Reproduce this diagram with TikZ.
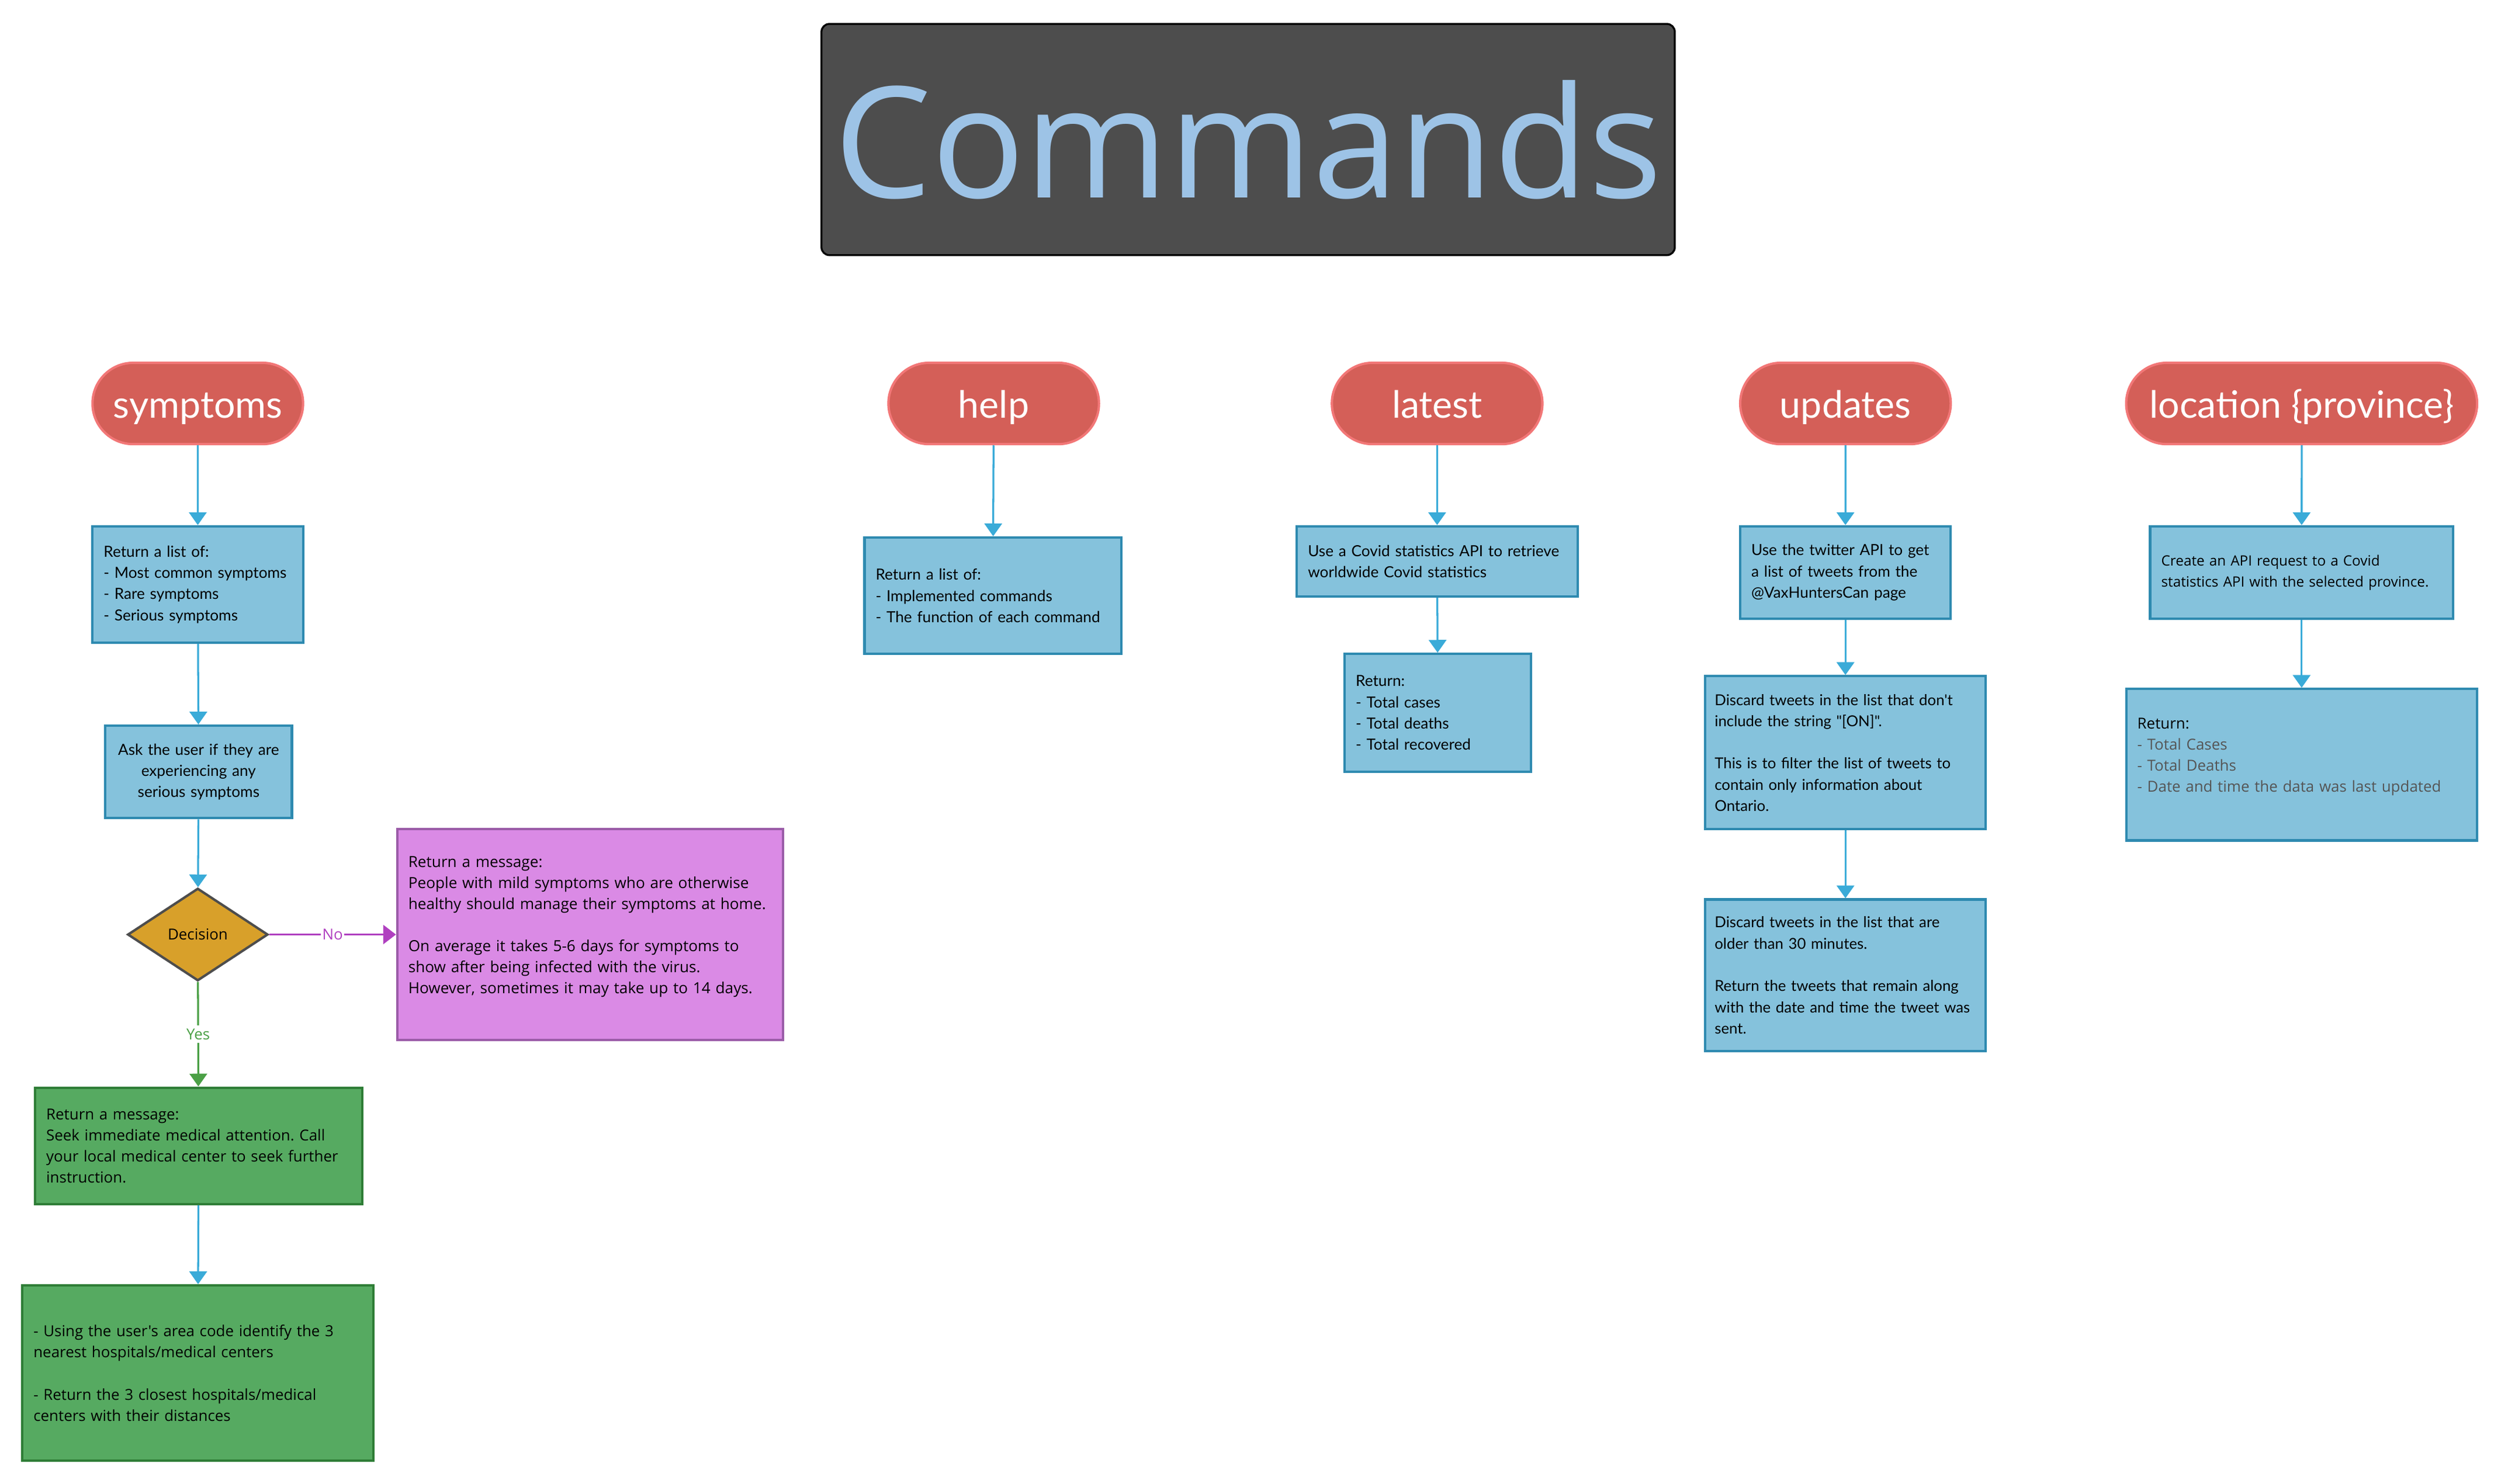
\documentclass[tikz,border=0pt]{standalone}
\usepackage{fontspec}
\setmainfont{Lato}[Ligatures=TeXOff]
\newfontfamily\opensans{Open Sans}[Ligatures=TeXOff]
\usepackage{tikz}
\usetikzlibrary{shapes,arrows.meta}
\frenchspacing

\definecolor{titlefill}{HTML}{4D4D4D}
\definecolor{titletext}{HTML}{9DC3E6}
\definecolor{pillfill}{HTML}{D45F58}
\definecolor{pilledge}{HTML}{F27777}
\definecolor{procfill}{HTML}{85C2DC}
\definecolor{procedge}{HTML}{2E8AB0}
\definecolor{flowblue}{HTML}{3AABD8}
\definecolor{decfill}{HTML}{D8A02A}
\definecolor{decedge}{HTML}{4D4D4D}
\definecolor{msgfill}{HTML}{DA8AE5}
\definecolor{msgedge}{HTML}{9B5CA8}
\definecolor{noline}{HTML}{B040C0}
\definecolor{okfill}{HTML}{56AA61}
\definecolor{okedge}{HTML}{2E7D36}
\definecolor{yesline}{HTML}{4BA046}
\definecolor{listgray}{HTML}{555555}

\tikzset{
  pill/.style={rounded rectangle, draw=pilledge, line width=1.5pt, fill=pillfill,
    text=white, minimum height=51pt, minimum width=132pt, inner sep=0pt,
    text height=19pt, text depth=0.4pt, font=\fontsize{23.6}{26}\selectfont},
  proc/.style={rectangle, draw=procedge, line width=1.5pt, fill=procfill,
    inner xsep=7pt, inner ysep=4pt, align=left, font=\fontsize{9.6}{13.3}\selectfont},
  wide/.style={font=\opensans\fontsize{9.5}{13.2}\selectfont},
  flow/.style={draw=flowblue, line width=1.2pt, -{Triangle[width=11pt,length=8pt]}},
}

\begin{document}
\begin{tikzpicture}[x=1pt,y=-1pt]
    \useasboundingbox (0,0) rectangle (1568,930.5);

    % Title
    \node [rectangle, rounded corners=5pt, draw=black, line width=1.2pt, fill=titlefill,
      text=titletext, minimum width=535pt, minimum height=145pt, inner sep=0pt,
      font=\opensans\fontsize{97}{110}\selectfont] (title) at (782.5,87.5) {Commands};

    % Commands
    \node [pill] (symptoms) at (124,253) {symptoms};
    \node [pill] (help) at (623,253) {help};
    \node [pill] (latest) at (901,253) {latest};
    \node [pill] (updates) at (1157,253) {updates};
    \node [pill, minimum width=220pt] (location) at (1443,253) {location \{province\}};

    % symptoms column
    \node [proc, text width=118pt, minimum height=73pt] (symlist) at (124,366.5)
      {Return a list of:\\- Most common symptoms\\- Rare symptoms\\- Serious symptoms};
    \node [proc, inner xsep=4pt, text width=109pt, minimum height=58pt, align=center] (ask) at (124.5,484)
      {Ask the user if they are\\experiencing any\\serious symptoms};
    \node [diamond, draw=decedge, line width=1.5pt, fill=decfill, minimum width=88pt,
      minimum height=58pt, inner sep=1pt, font=\opensans\fontsize{9.5}{11}\selectfont]
      (decision) at (124,586) {Decision};
    \node [proc, font=\opensans\fontsize{9.6}{13.2}\selectfont, fill=msgfill, draw=msgedge,
      text width=228pt, minimum height=132pt] (mild) at (370,586)
      {Return a message:\\People with mild symptoms who are otherwise\\healthy should manage their symptoms at home.\\[\baselineskip]On average it takes 5-6 days for symptoms to\\show after being infected with the virus.\\However, sometimes it may take up to 14 days.\\[-1.2pt]\mbox{}};
    \node [proc, wide, fill=okfill, draw=okedge, text width=191pt, minimum height=73pt]
      (serious) at (124.5,718.5)
      {Return a message:\\Seek immediate medical attention. Call\\your local medical center to seek further\\instruction.};
    \node [proc, wide, fill=okfill, draw=okedge, text width=206pt, minimum height=110pt]
      (nearest) at (124,861)
      {- Using the user's area code identify the 3\\nearest hospitals/medical centers\\[\baselineskip]- Return the 3 closest hospitals/medical\\centers with their distances};

    \draw [flow] (symptoms) -- (symlist);
    \draw [flow] (symlist) -- (ask);
    \draw [flow] (ask) -- (decision);
    \draw [draw=noline, line width=1.2pt, -{Triangle[width=12pt,length=8pt]}] (decision) -- (mild)
      node [midway, fill=white, text=noline, inner sep=1pt, font=\opensans\fontsize{9.5}{11}\selectfont] {No};
    \draw [draw=yesline, line width=1.2pt, -{Triangle[width=11pt,length=8pt]}] (decision) -- (serious)
      node [midway, fill=white, text=yesline, inner sep=2pt, font=\opensans\fontsize{9.5}{11}\selectfont] {Yes};
    \draw [flow] (serious) -- (nearest);

    % help column
    \node [proc, text width=147pt, minimum height=73pt] (helplist) at (622.5,373.5)
      {Return a list of:\\- Implemented commands\\- The function of each command};
    \draw [flow] (help) -- (helplist);

    % latest column
    \node [proc, text width=162pt, minimum height=44pt] (worldapi) at (901,352)
      {Use a Covid statistics API to retrieve\\worldwide Covid statistics};
    \node [proc, text width=103pt, minimum height=74pt] (totals) at (901.5,447)
      {Return:\\- Total cases\\- Total deaths\\- Total recovered};
    \draw [flow] (latest) -- (worldapi);
    \draw [flow] (worldapi) -- (totals);

    % updates column
    \node [proc, text width=118pt, minimum height=58pt] (twitter) at (1157,359)
      {Use the twitter API to get\\a list of tweets from the\\@VaxHuntersCan page};
    \node [proc, inner xsep=6pt, text width=164pt, minimum height=96pt,
      font=\fontsize{9.45}{13.3}\selectfont] (ontario) at (1157,472)
      {Discard tweets in the list that don't\\include the string "[ON]".\\[\baselineskip]This is to filter the list of tweets to\\contain only information about\\Ontario.};
    \node [proc, inner xsep=6pt, text width=164pt, minimum height=95pt,
      font=\fontsize{9.45}{13.3}\selectfont] (recent) at (1157,611.5)
      {Discard tweets in the list that are\\older than 30 minutes.\\[\baselineskip]Return the tweets that remain along\\with the date and time the tweet was\\sent.};
    \draw [flow] (updates) -- (twitter);
    \draw [flow] (twitter) -- (ontario);
    \draw [flow] (ontario) -- (recent);

    % location column
    \node [proc, font=\opensans\fontsize{8.9}{13.2}\selectfont, text width=176pt,
      minimum height=58pt] (request) at (1443,359)
      {Create an API request to a Covid\\statistics API with the selected province.};
    \node [proc, wide, text width=206pt, minimum height=95pt] (province) at (1443,479.5)
      {Return:\\{\color{listgray}- Total Cases\\- Total Deaths\\- Date and time the data was last updated}\\[-1.2pt]\mbox{}};
    \draw [flow] (location) -- (request);
    \draw [flow] (request) -- (province);
\end{tikzpicture}
\end{document}
